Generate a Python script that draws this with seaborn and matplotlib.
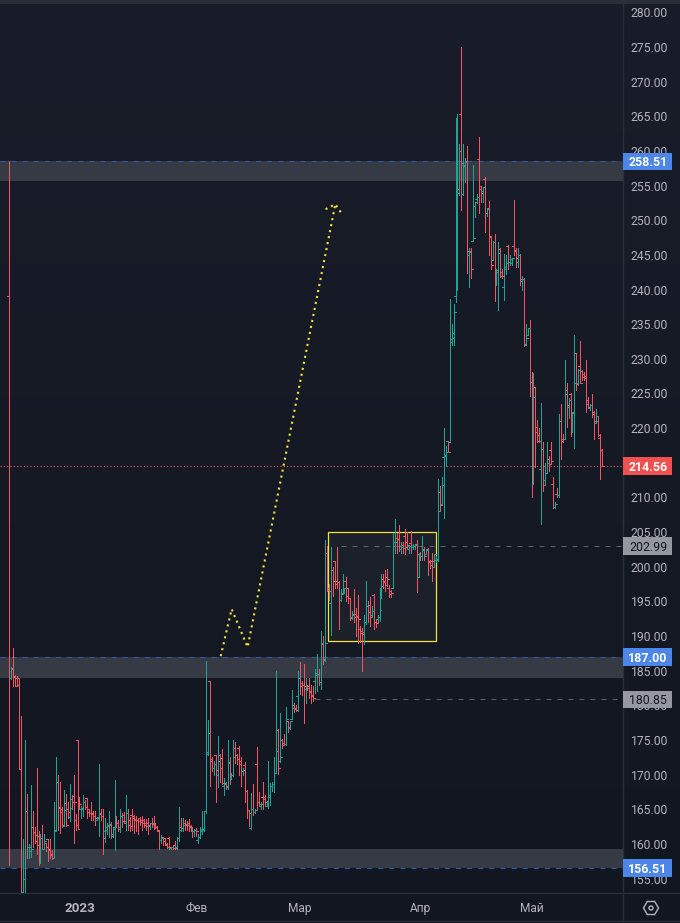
import matplotlib
matplotlib.use("Agg")
import matplotlib.pyplot as plt
import seaborn as sns
import pandas as pd
import numpy as np
from matplotlib.colors import LinearSegmentedColormap
from matplotlib.patches import Rectangle, RegularPolygon, Circle

opens = [239,184,185.3,184.3,184,184,170.8,153,154.9,164.8,
         159.5,159,162.5,161.7,161.3,161.2,157.3,160.9,159.3,160.2,
         160.7,159.2,158.5,158,162,169,165.3,165,162.6,165.9,
         165,163.9,166.5,166.9,163.5,175,166,165,165,166,
         166.6,164.6,164.5,164.4,164,163.5,163.8,164.5,164,161.9,
         162,162.6,162.9,161.5,162.5,163.9,163,162.5,164,164.2,
         163,164.4,162.8,164.2,164,163.6,163.5,163.8,163.5,163.4,
         163,163,162.6,163,163,162.7,162.5,161.8,160.5,161,
         160.8,159.8,160.8,159.4,159.5,159.8,159.5,160.9,162.4,162.3,
         163,162.9,163,162.4,162,161.8,162,160.6,161,161.8,
         162,164.8,173,183.5,172,171,172.8,170,172.8,172.4,
         168.4,168.7,168.2,171.8,169.5,169.9,173.9,172.8,173.9,172,
         170.5,171.4,167.7,164.9,162.3,165,164.6,171.6,166,165.5,
         166.8,166.8,165.5,166.2,167,168.4,168.7,170.3,176.4,172,
         175,174.6,174.4,177.7,176.8,178,180,179.6,181.4,184,
         183.2,183,182.4,182.8,182.8,182,181.5,183.5,184.4,184.5,
         183.4,188.9,186.5,202,197,194.8,199.5,200.8,197.9,197.8,
         195.2,196,196.7,198,196.9,195.5,192.8,193.2,193.2,192.9,
         191,190.4,190.6,192,194.4,194.5,193,195.9,192,192.4,
         192.8,196.4,198.3,198,198.5,197,196.5,197,203,204.2,
         204,202.5,203.2,204.5,203.5,202.6,203.4,202.9,203,203.3,
         198.5,201.9,201.5,202.6,201.8,202.6,200.9,200.9,200,201,
         201,210.8,209.1,215.9,216,218.1,218,232.5,233,239,
         254.4,254,265.3,253.8,257.8,258.5,245,245.5,247,252,
         253,258.9,254.5,254.2,255.9,251,251.7,247.6,244.3,246.9,
         241,242.5,245.8,242.5,240.4,243,246.3,244,243.9,246.3,
         245.5,244,245,241.2,241.5,232,233.4,234.5,226.7,212,
         225.9,219.5,219,214.1,217,212.5,213.6,215.5,216.8,212,
         208.6,210.5,210.4,221,218.5,218.5,225.5,223,225,219.7,
         222.3,230.8,226.5,229,228.2,227.8,227.5,224,222.9,223.4,
         222,220.8,221,218.6,216.9]
highs = [258.5,185.5,188.3,184.4,184.2,184,178.4,160.7,175,167.2,
         160,168.5,164.8,162.4,170.9,161.8,161.4,162.7,161.4,160.2,
         160.7,160.7,159.1,166.1,172.5,170,168.9,165.3,167.8,167.2,
         166,168.6,167,169.9,164.3,175,166.8,165.5,167,166.3,
         166.6,165,166,164.8,164.7,163.9,171.6,165,165,163.8,
         163,164.8,163.2,162.5,169.2,164,163.5,165,164.5,164.6,
         167,165,163.9,165,164.2,164,163.8,163.9,164,163.6,
         163.6,163.8,163,163.8,164,163,162.6,161.8,161.3,161,
         160.8,160.2,161,159.6,159.7,160.4,161,165.4,163.7,163.8,
         163.5,163.3,163.6,162.8,162.4,162.1,162.3,161.5,162.5,164.8,
         164.8,186.4,177.9,183.5,172.5,172,172.8,175.6,173,173.7,
         169.5,168.9,175,172.5,170.3,175,174.7,173,174.2,172.5,
         171,171.8,167.8,164.9,167.4,168.7,165,174,167.5,166,
         169,167,166.2,172,168.8,168.9,172.5,185,176.6,178.9,
         175.2,175.8,179.8,177.8,177.8,182.2,180.3,180,185,186.2,
         183.5,185.9,184,183,184,183,182.8,185.2,187.4,185.2,
         190.7,190,203.8,203,197.5,202.9,200,200.8,202.8,198,
         196.8,198.9,197,198.5,197,195.5,193.6,196.8,194,195.9,
         191.5,191.2,193,198,195,195.6,194.4,196,192.5,193,
         197,199,198.9,199.5,199.7,197.3,196.7,204.8,206.9,204.8,
         206,203.5,203.6,205.4,205,203.2,205.2,203.3,203.3,203.8,
         202,202.2,204.4,202.8,202.5,202.7,201,202,201.9,201.5,
         212.6,211.7,212.9,220,217.4,218.2,238.6,235,237.9,264.8,
         265.3,261,275,261,259,260.7,246,246,258,252.7,
         253.8,262,254.8,254.8,256.2,251.8,252.8,247.7,247,248,
         243,246.8,246,243,245.2,245,246.4,245,244.5,252.9,
         246,246,245.2,242,241.6,235,234.5,235.6,228.1,227.9,
         226,221.2,220,223.6,218,215,218,216,218,213,
         209.3,211.3,222,223.5,219.2,229.9,226.5,224.3,225.1,222.4,
         233.4,230.8,228.6,232.6,228.4,228.1,229.9,224.5,223.5,224.9,
         222.5,222.7,221.6,219.2,217]
lows = [157,183.8,182.8,182.8,182.8,170.8,153,152.5,152.5,158,
        158,158.1,159.5,160.2,158.5,156.9,157.3,159.2,159.2,159,
        157.5,158,157.9,158,162,162,161.6,162.4,162.6,162.6,
        163.8,163.3,165,160.1,162,162.2,165,163.8,164,165,
        163.7,164,163.5,163.4,162.8,163.4,161.2,163.5,158.5,160.3,
        161.5,161,160.8,161,159.1,162.4,161.8,161.7,162.5,163,
        162,162,161.8,162,161.6,161.8,161.5,162.8,162,162.5,
        162,161.5,162.2,162.4,162.2,162.3,161.8,159.2,160.2,159.8,
        159.9,159.4,159.3,159.2,159.3,159.3,159.3,160.4,161.8,161.8,
        162,162,161.8,161.9,161,161.2,161.2,160.2,160.8,161.4,
        161.8,164.5,172.8,168.4,170.5,170,166,168.2,169,168.7,
        167,168,168,168.6,169.4,169.8,171.7,171.5,169.9,168.4,
        170,166,163.8,162.6,162.2,164.2,164.4,165,165.5,165,
        165,165.5,165.5,165.2,165.6,167.6,167.5,170.3,170.1,171.8,
        173.8,174.3,174.3,176.2,176.6,178,179,179.2,179.2,181.6,
        181.5,177.4,180.3,182.2,181,180.4,180.6,181.8,182,183,
        182.4,186,186.4,196.5,195.2,190.2,195.8,197,197,191,
        195,196,196.2,195,194.7,192.3,192.5,192,190,189,
        189.2,185,188.8,191.8,192,191.5,192.7,191,191.3,192,
        192.2,195.5,197,196.5,197.2,195.7,195.7,197,202,202,
        202.3,202,202,201.9,202.6,202,202,202.5,202.6,196.3,
        198.5,201,201,201,201.8,198.8,199.8,197.9,200,200.7,
        200.8,208,209.1,207,214.5,216.5,218,232,232,238.2,
        240,253.6,251.5,253.6,255.5,242.4,240.3,241.7,247,250.5,
        252.5,251,252.7,252.7,248.3,250.6,245,243,244.3,238.4,
        240.6,237,241.8,241.6,238.5,242.3,243,243.5,243.5,245,
        243.3,243.2,240.6,240,231.8,232,233.4,224.6,210.1,212,
        214.4,218,218,206.1,211,212,213.5,213.8,215,208.5,
        208.5,210.1,210,215.5,218,218.4,220.2,221.4,218.8,219.5,
        217.2,225.5,226.2,226.5,227,227,222.4,223,222.6,221.6,
        218.5,220.7,218.8,212.6,214.5]
closes = [184,185.4,184.1,182.8,183,170.8,153,154.9,164.8,159.5,
          159.6,159.2,161.7,160.4,159.8,157.3,160.9,159.3,160.4,159.5,
          159.1,158.4,158,161.9,169,165.2,164.6,162.8,164.9,162.7,
          164.6,165.2,166,166,162.8,162.2,165.8,165.2,166,165.3,
          165,164.5,164.3,164,163.8,163.9,164.3,164,160.9,162.4,
          162.8,162.8,161.2,162.2,163.7,163,162.2,164.1,163.3,163.3,
          164.4,163.5,162.6,163.8,163.5,163.5,163.3,163.2,163,162.8,
          162.6,162.8,163,162.9,162.9,162.5,162,160.5,160.8,160.4,
          160,159.6,159.6,159.5,159.4,159.4,160.8,162,162.3,162.7,
          162.8,162.7,162.6,162,161.9,162,161.8,161,162.1,162.2,
          164.7,173.3,176,172.3,171,171.6,170.6,172,171,168.8,
          168.8,168.4,171.7,169.5,170,172.5,172.8,172.3,171.6,170.5,
          170.7,167.7,164.9,164.5,165,164.6,164.9,166,165.8,165.8,
          166.5,166,166.2,166.8,168.4,168.7,170.3,173.4,171,172.5,
          174.3,174.4,178,176.9,177.7,179.6,179.5,179.4,184,182.8,
          183,182.8,182.6,182.5,181.9,181.3,181,184.6,184.5,183.3,
          189,186.7,189,196.7,196.5,199.6,197.9,197.5,197.8,195.2,
          196.2,196.5,196.9,195.8,195.5,192.6,193.1,192.8,192.8,192.5,
          190.7,190.3,192,194.3,193.5,192.7,193.6,192,191.9,192.8,
          193.8,197.2,197.8,197.3,198.3,196.1,196.2,203.6,203.5,204,
          203,202.8,202.7,202.9,203.1,203,202.8,203,203.2,201.8,
          201.7,201.5,202.4,201.6,202.4,200.7,200.2,200.8,201.8,201.1,
          208,208.9,211.8,216.1,216.5,216.5,232.8,233.7,236.7,254.4,
          254.5,260,258.2,258,258.4,245.6,245.4,243,247.4,252.6,
          253.4,255,254,254.8,251,251.6,247.7,243.5,246.8,241.1,
          242.8,245.3,242,242,243.2,243.8,244,244.4,244.5,245.7,
          244.6,245,241.5,241.5,232.2,233,234.5,226.6,212,224.5,
          220.2,218.2,218.1,217,211.8,213.5,214.9,214.8,215.2,208.6,
          209.1,210.4,221,218.2,218.4,224.9,223.3,224,219.6,222.2,
          226.5,226.4,228.4,226.5,227.4,227.3,223.5,223.1,223.3,222.4,
          221,221.7,219,216.9,214.6]

price_ticks = [155 + 5 * i for i in range(26)]
month_labels = ["2023", "Фев", "Мар", "Апр", "Май"]
month_bars = [36, 96, 149, 211, 268]

zones = [(255.7, 258.51), (183.9, 187.0), (156.51, 159.3)]
blue_levels = [258.51, 187.0, 156.51]
grey_levels = [(202.99, 170), (180.85, 157)]
last_price = 214.56
price_tags = [(258.51, "#4c86e8", "white"), (214.56, "#f0504f", "white"),
              (202.99, "#9598a1", "#131722"), (187.00, "#4c86e8", "white"),
              (180.85, "#9598a1", "#131722"), (156.51, "#4c86e8", "white")]

box_x = [163.3, 219.2]
box_y = [189.3, 204.95]
arrow_x = [108.5, 114.1, 122.3, 167.3]
arrow_y = [187.1, 193.9, 188.4, 252.3]
wing_x = [162.3, 167.3, 170.7]
wing_y = [251.6, 252.3, 250.9]

W, H = 680, 923
RIGHT, BOTTOM = 623, 893
FIRST_PX, LAST_PX = 9.3, 601.7
PX_PER_UNIT = 6.93
Y155 = 878.6

sns.set_theme(style="dark")
plt.rcParams['font.family'] = ['Roboto', 'DejaVu Sans']

fig = plt.figure(figsize=(W / 100, H / 100), dpi=100)

# background layer in screen pixels
bg = fig.add_axes([0, 0, 1, 1])
cmap = LinearSegmentedColormap.from_list("bg", ["#191d29", "#121620"])
bg.imshow(np.linspace(0, 1, 256).reshape(-1, 1), cmap=cmap, aspect="auto", extent=[0, W, H, 0])
bg.set_xlim(0, W)
bg.set_ylim(H, 0)
bg.axis("off")
bg.add_patch(Rectangle((0, 0), W, 4, color="#2a2e39", lw=0))
bg.plot([0, W], [BOTTOM, BOTTOM], color="#2a2e39", lw=1)
bg.plot([0, W], [921, 921], color="#2a2e39", lw=1)
bg.plot([RIGHT, RIGHT], [0, 921], color="#2a2e39", lw=1)
bg.add_patch(RegularPolygon((651, 908), 6, radius=7.5, orientation=np.pi / 6, fill=False, ec="#b2b5be", lw=1))
bg.add_patch(Circle((651, 908), 2, fill=False, ec="#b2b5be", lw=1))

ax = fig.add_axes([0, 1 - BOTTOM / H, RIGHT / W, BOTTOM / H])
ax.patch.set_alpha(0)
for s in ax.spines.values():
    s.set_visible(False)

# scales
n = len(opens)
bar_px = (LAST_PX - FIRST_PX) / (n - 1)
ax.set_xlim(-FIRST_PX / bar_px, (RIGHT - FIRST_PX) / bar_px)
ax.set_ylim(155 - (BOTTOM - Y155) / PX_PER_UNIT, 155 + Y155 / PX_PER_UNIT)

for lo, hi in zones:
    ax.axhspan(lo, hi, color="#363a45", lw=0, zorder=1)
for lvl in blue_levels:
    ax.axhline(lvl, color="#2f5aa3", lw=0.8, linestyle=(0, (4.5, 5.5)), zorder=1.2)
for lvl, start in grey_levels:
    ax.hlines(lvl, start, ax.get_xlim()[1], color="#5d606b", lw=0.72, linestyle=(0, (5, 6)), zorder=1.2)
ax.axhline(last_price, color="#f7525f", lw=0.8, linestyle=(0, (1, 2)), zorder=1.3)

ax.add_patch(Rectangle((box_x[0], box_y[0]), box_x[1] - box_x[0], box_y[1] - box_y[0],
                       fc=(1, 1, 1, 0.035), ec="#f5e13c", lw=0.9, zorder=1.5))

# wicks and open/close ticks as separate short segments
rows = []
for i in range(n):
    d = "up" if closes[i] >= opens[i] else "down"
    rows += [(f"{i}w", i, highs[i], d), (f"{i}w", i, lows[i], d),
             (f"{i}o", i - 1, opens[i], d), (f"{i}o", i, opens[i], d),
             (f"{i}c", i, closes[i], d), (f"{i}c", i + 1, closes[i], d)]
segs = pd.DataFrame(rows, columns=["seg", "x", "price", "dir"])
sns.lineplot(data=segs, x="x", y="price", units="seg", hue="dir", estimator=None, sort=False,
             palette={"up": "#1fa596", "down": "#f7525f"}, linewidth=0.72, legend=False, ax=ax, zorder=2,
             solid_capstyle="butt")
for line in ax.get_lines():
    if line.get_zorder() == 2:
        line.set_snap(True)
        line.set_antialiased(False)

dotted = (0, (1, 1.93))
sns.lineplot(x=arrow_x, y=arrow_y, sort=False, estimator=None, color="#f5e33b", linewidth=1.5, linestyle=dotted, ax=ax, zorder=3)
sns.lineplot(x=wing_x, y=wing_y, sort=False, estimator=None, color="#f5e33b", linewidth=1.5, linestyle=dotted, ax=ax, zorder=3)

ax.set_xlabel("")
ax.set_ylabel("")
ax.yaxis.tick_right()
ax.set_yticks(price_ticks)
ax.set_yticklabels([f"{p:.2f}" for p in price_ticks], fontsize=8.7, color="#b2b5be")
ax.set_xticks(month_bars)
ax.set_xticklabels(month_labels, fontsize=8.6, color="#b2b5be")
ax.get_xticklabels()[0].set_fontweight("bold")
ax.get_xticklabels()[0].set_fontsize(9.6)
ax.tick_params(axis="y", length=0, pad=5.5)
ax.tick_params(axis="x", length=0, pad=6.5)
ax.grid(False)

# price tags sit over the scale
tag_tf = ax.get_yaxis_transform()
for val, bgc, fgc in price_tags:
    ax.add_patch(Rectangle((1.0, val - 8.7 / PX_PER_UNIT), 49 / RIGHT, 17.4 / PX_PER_UNIT, transform=tag_tf,
                           fc=bgc, lw=0, clip_on=False, zorder=6))
    ax.text(1 + 25 / RIGHT, val, f"{val:.2f}", transform=tag_tf, ha="center", va="center_baseline",
            fontsize=8.9, color=fgc, fontweight="bold" if fgc == "white" else "normal", zorder=7, clip_on=False)

plt.savefig("out.png", dpi=100)
plt.close()
